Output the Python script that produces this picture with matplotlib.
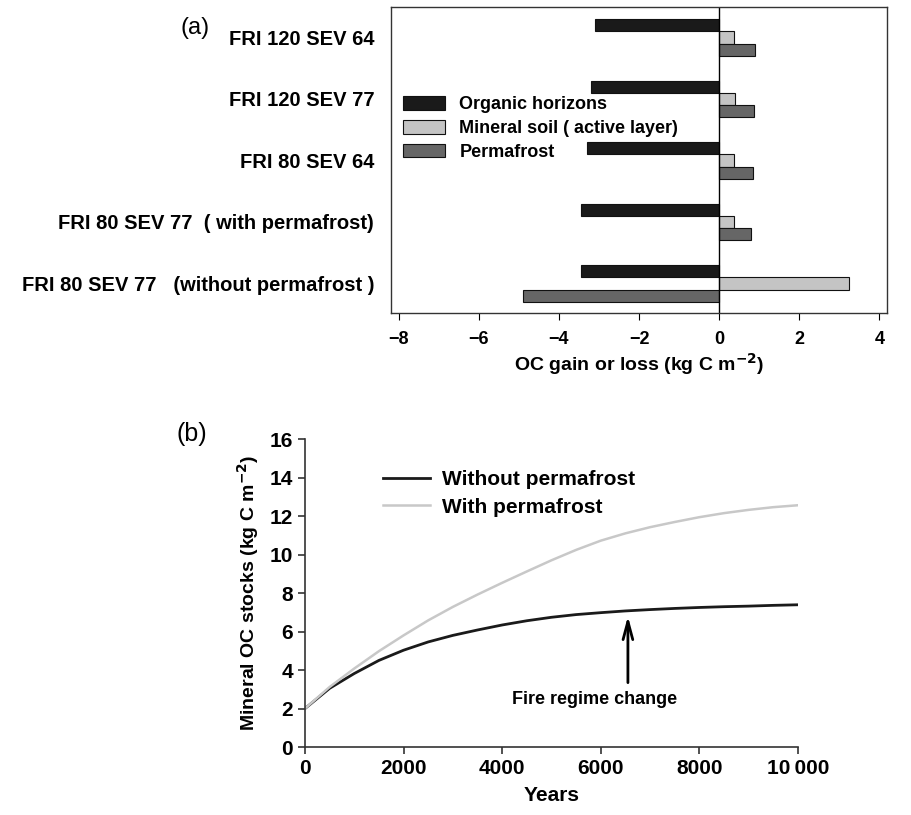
import numpy as np
import matplotlib
matplotlib.use("Agg")
import matplotlib.pyplot as plt

plt.rcParams['font.family'] = ['Liberation Sans', 'DejaVu Sans']

# ---------------------------------------------------------------------------
# panel (a) data : OC gain or loss (kg C m-2)
scenarios = ["FRI 120 SEV 64", "FRI 120 SEV 77", "FRI 80 SEV 64",
             "FRI 80 SEV 77  ( with permafrost)",
             "FRI 80 SEV 77   (without permafrost )"]
organic = [-3.1, -3.2, -3.3, -3.45, -3.45]
mineral = [0.38, 0.39, 0.38, 0.38, 3.25]
permafrost = [0.9, 0.87, 0.85, 0.8, -4.9]
bar_names = ["Organic horizons", "Mineral soil ( active layer)", "Permafrost"]
bar_colors = ["#1a1a1a", "#c4c4c4", "#666666"]

# panel (b) data : mineral OC stocks (kg C m-2)
years = [0, 500, 1000, 1500, 2000, 2500, 3000, 3500, 4000, 4500, 5000,
         5500, 6000, 6500, 7000, 7500, 8000, 8500, 9000, 9500, 10000]
without_pf = [2.0, 3.05, 3.82, 4.5, 5.03, 5.46, 5.8, 6.08, 6.34, 6.56, 6.74,
              6.88, 6.98, 7.07, 7.14, 7.2, 7.25, 7.29, 7.32, 7.36, 7.39]
with_pf = [2.0, 3.12, 4.08, 4.98, 5.8, 6.58, 7.28, 7.92, 8.53, 9.12, 9.7,
           10.24, 10.72, 11.1, 11.42, 11.69, 11.94, 12.15, 12.32, 12.46, 12.56]
year_ticks = [0, 2000, 4000, 6000, 8000, 10000]
year_labels = ["0", "2000", "4000", "6000", "8000", "10\u2009000"]

fig = plt.figure(figsize=(9.11, 8.15), dpi=100)

# ---------------------------------------------------------------------------
# (a) horizontal grouped bars
ax1 = fig.add_axes([0.429, 0.616, 0.545, 0.375])
y = np.arange(len(scenarios))
h = 0.2
for k, (vals, name, col) in enumerate(zip([organic, mineral, permafrost], bar_names, bar_colors)):
    ax1.barh(y + (k - 1) * h, vals, height=h, color=col, edgecolor="#111111",
             linewidth=0.8, label=name)
ax1.axvline(0, color="black", lw=1.0)
ax1.set_ylim(4.48, -0.49)
ax1.set_xlim(-8.2, 4.2)
ax1.set_xticks([-8, -6, -4, -2, 0, 2, 4])
ax1.set_xticklabels(["\u22128", "\u22126", "\u22124", "\u22122", "0", "2", "4"],
                    fontsize=13, fontweight="bold")
ax1.set_yticks(y)
ax1.set_yticklabels(scenarios, fontsize=14.5, fontweight="bold")
ax1.tick_params(axis="y", length=0, pad=12)
ax1.tick_params(axis="x", direction="out", length=5, pad=8)
ax1.set_xlabel("OC gain or loss (kg C m$^{\\mathbf{-2}}$)", fontsize=14,
               fontweight="bold", labelpad=2)
for s in ax1.spines.values():
    s.set_linewidth(1.0)
    s.set_color("#333333")
ax1.legend(loc="upper left", bbox_to_anchor=(0.0, 0.75), frameon=False,
           prop={"size": 13, "weight": "bold"}, handlelength=2.3,
           handleheight=0.75, labelspacing=0.38, handletextpad=0.8,
           borderaxespad=0.3)
fig.text(0.198, 0.958, "(a)", fontsize=17)

# ---------------------------------------------------------------------------
# (b) mineral OC stocks through time
ax2 = fig.add_axes([0.3348, 0.0834, 0.541, 0.3779])
ax2.plot(years, without_pf, color="#1a1a1a", lw=2.0, label="Without permafrost")
ax2.plot(years, with_pf, color="#c8c8c8", lw=1.8, label="With permafrost")
ax2.set_xlim(0, 10000)
ax2.set_ylim(0, 16)
ax2.set_xticks(year_ticks)
ax2.set_xticklabels(year_labels)
ax2.set_yticks(range(0, 17, 2))
for lab in ax2.get_xticklabels() + ax2.get_yticklabels():
    lab.set_fontsize(15)
    lab.set_fontweight("bold")
ax2.tick_params(direction="out", length=5, width=1.2, color="#333333")
for s in ["left", "bottom"]:
    ax2.spines[s].set_linewidth(1.2)
    ax2.spines[s].set_color("#333333")
ax2.spines["top"].set_visible(False)
ax2.spines["right"].set_visible(False)
ax2.set_xlabel("Years", fontsize=15, fontweight="bold", labelpad=6)
ax2.set_ylabel("Mineral OC stocks (kg C m$^{\\mathbf{-2}}$)", fontsize=14,
               fontweight="bold", labelpad=6)
ax2.legend(loc="upper left", bbox_to_anchor=(0.158, 0.9), frameon=False,
           prop={"size": 15, "weight": "bold"}, handlelength=2.26,
           labelspacing=0.42, handletextpad=0.58, borderaxespad=0,
           borderpad=0)
ax2.annotate("", xy=(6552, 6.94), xytext=(6552, 3.2),
             arrowprops=dict(arrowstyle="->,head_length=1.3,head_width=0.35",
                             color="black", lw=2.0))
ax2.text(5880, 2.45, "Fire regime change", ha="center", va="center",
         fontsize=13, fontweight="bold")
fig.text(0.194, 0.459, "(b)", fontsize=18)

fig.savefig("out.png", dpi=100)
